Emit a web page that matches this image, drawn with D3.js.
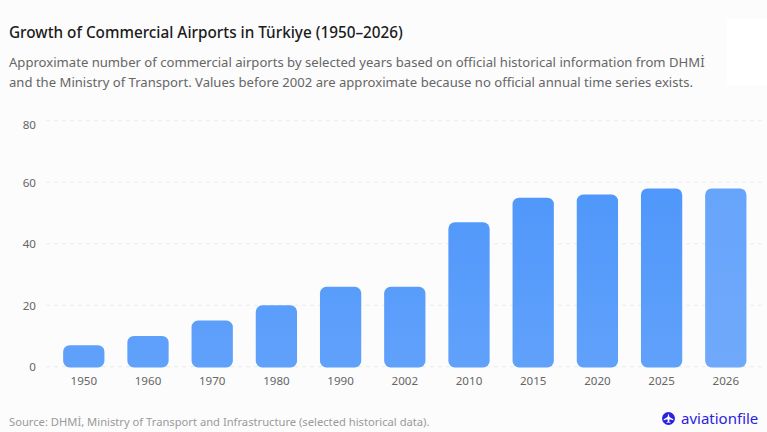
<!DOCTYPE html>
<html>
<head>
<meta charset="utf-8">
<script src="https://cdn.jsdelivr.net/npm/d3@7"></script>
<style>
html,body{margin:0;padding:0;background:#fcfcfc;}
svg{display:block;}
text{font-family:"Noto Sans","Open Sans",sans-serif;}
</style>
</head>
<body>
<svg id="chart" width="767" height="432"></svg>
<script>
const categories = ["1950","1960","1970","1980","1990","2002","2010","2015","2020","2025","2026"];
const airports = [7,10,15,20,26,26,47,55,56,58,58];
const yTicks = [0,20,40,60,80];
const titleText = "Growth of Commercial Airports in Türkiye (1950–2026)";
const subtitleLines = [
  "Approximate number of commercial airports by selected years based on official historical information from DHMİ",
  "and the Ministry of Transport. Values before 2002 are approximate because no official annual time series exists."
];
const sourceText = "Source: DHMİ, Ministry of Transport and Infrastructure (selected historical data).";
const brandText = "aviationfile";

const svg = d3.select("#chart");
svg.append("rect").attr("width",767).attr("height",432).attr("fill","#fcfcfc");
svg.append("rect").attr("x",727).attr("y",18).attr("width",40).attr("height",67).attr("fill","#ffffff");

const x = d3.scaleBand().domain(categories).range([51.7,757.9]).paddingInner(0.357).paddingOuter(0.1785);
const y = d3.scaleLinear().domain([0,80]).range([366.7,120.8]);

// Vertical fill shared by the bars; the latest year uses a paler one.
const defs = svg.append("defs");
const addGradient = (id, top, bottom) => {
  const g = defs.append("linearGradient").attr("id",id)
    .attr("gradientUnits","userSpaceOnUse")
    .attr("x1",0).attr("x2",0).attr("y1",y(60)).attr("y2",y(0));
  g.append("stop").attr("offset",0).attr("stop-color",top);
  g.append("stop").attr("offset",1).attr("stop-color",bottom);
};
addGradient("barFill","#4f97fb","#60a1fb");
addGradient("barFillLast","#66a4fb","#70a9fb");

svg.append("text").attr("x",9).attr("y",38)
  .attr("font-size",15.3).attr("font-weight",500).attr("fill","#1b1b1b").text(titleText);
svg.selectAll("text.sub").data(subtitleLines).join("text").attr("class","sub")
  .attr("x",9).attr("y",(d,i)=>67+i*20)
  .attr("font-size",13.1).attr("fill","#666666").text(d=>d);

// Gridlines and value labels
svg.selectAll("line.grid").data(yTicks).join("line").attr("class","grid")
  .attr("x1",46).attr("x2",765).attr("y1",d=>y(d)).attr("y2",d=>y(d))
  .attr("stroke","#ebebeb").attr("stroke-width",1).attr("stroke-dasharray","4 4");

const yAxis = d3.axisLeft(y).tickValues(yTicks).tickSize(0).tickPadding(0);
const yG = svg.append("g").attr("transform","translate(36,0)").call(yAxis);
yG.select(".domain").remove();
yG.selectAll("text").attr("font-size",11.6).attr("fill","#666666")
  .style("font-family",'"Noto Sans","Open Sans",sans-serif')
  .attr("dy",d=> d===80 ? "0.62em" : "0.36em");

// Bars
const barPath = d => {
  const bx = x(d.c), bw = x.bandwidth(), top = y(d.v), bot = y(0)+0.8, r = 6.5;
  const p = d3.path();
  p.moveTo(bx, bot-r);
  p.lineTo(bx, top+r);
  p.arcTo(bx, top, bx+r, top, r);
  p.lineTo(bx+bw-r, top);
  p.arcTo(bx+bw, top, bx+bw, top+r, r);
  p.lineTo(bx+bw, bot-r);
  p.arcTo(bx+bw, bot, bx+bw-r, bot, r);
  p.lineTo(bx+r, bot);
  p.arcTo(bx, bot, bx, bot-r, r);
  p.closePath();
  return p.toString();
};
svg.selectAll("path.bar")
  .data(categories.map((c,i)=>({c,v:airports[i]})))
  .join("path").attr("class","bar")
  .attr("d",barPath)
  .attr("fill",(d,i)=> i===categories.length-1 ? "url(#barFillLast)" : "url(#barFill)");

const xAxis = d3.axisBottom(x).tickSize(0).tickPadding(0);
const xG = svg.append("g").attr("transform","translate(0,376.6)").call(xAxis);
xG.select(".domain").remove();
xG.selectAll("text").attr("font-size",11.6).attr("fill","#666666")
  .style("font-family",'"Noto Sans","Open Sans",sans-serif');

svg.append("text").attr("x",9).attr("y",425.5)
  .attr("font-size",11.2).attr("fill","#9a9a9a").text(sourceText);

// Brand mark: a round badge holding a small plane
const brandColor = "#2a22e2";
const badge = svg.append("g").attr("transform","translate(668.5,418.5)");
badge.append("circle").attr("r",6.5).attr("fill",brandColor);
badge.append("path")
  .attr("d","M0,-5 L1,-1.6 L4.8,0.8 L4.8,1.8 L1,0.8 L0.7,3 L2,4 L2,4.6 L0,4 L-2,4.6 L-2,4 L-0.7,3 L-1,0.8 L-4.8,1.8 L-4.8,0.8 L-1,-1.6 Z")
  .attr("fill","#ffffff");
svg.append("text").attr("x",681).attr("y",424)
  .attr("font-size",15).attr("fill",brandColor).text(brandText);
</script>
</body>
</html>
